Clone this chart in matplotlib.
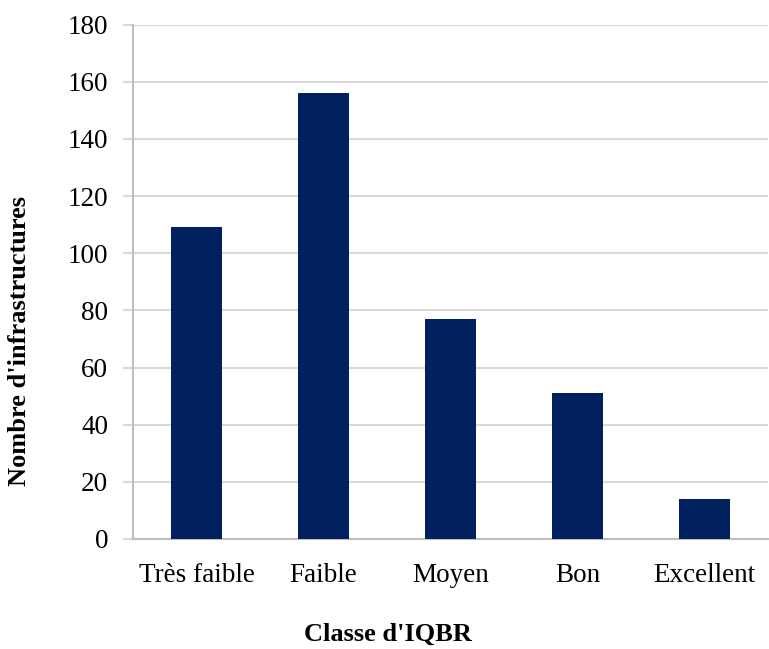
import matplotlib
matplotlib.use("Agg")
import matplotlib.pyplot as plt

categories = ["Très faible", "Faible", "Moyen", "Bon", "Excellent"]
values = [109, 156, 77, 51, 14]
yticks = [0, 20, 40, 60, 80, 100, 120, 140, 160, 180]

W, H = 769, 649
fig = plt.figure(figsize=(W/100, H/100), dpi=100)
plt.rcParams['font.family'] = ['Liberation Serif', 'DejaVu Serif']

ax = fig.add_axes([133/W, 1-539/H, (768-133)/W, (539-24.5)/H])
x = list(range(len(categories)))
ax.bar(x, values, width=0.4, color="#002060", zorder=3)
ax.set_xlim(-0.5, len(categories)-0.5)
ax.set_ylim(0, 180)
ax.set_yticks(yticks)
ax.set_yticklabels([str(v) for v in yticks], fontsize=19.5)
ax.set_xticks(x)
ax.set_xticklabels(categories, fontsize=19.5)
ax.yaxis.grid(True, color="#d9d9d9", linewidth=1.5, zorder=0)
ax.set_axisbelow(True)
for s in ["top", "right"]:
    ax.spines[s].set_visible(False)
ax.spines["left"].set_color("#bfbfbf")
ax.spines["left"].set_linewidth(1.5)
ax.spines["bottom"].set_color("#bfbfbf")
ax.spines["bottom"].set_linewidth(1.5)
ax.tick_params(axis="y", length=7, width=1.5, color="#d9d9d9", pad=11)
ax.tick_params(axis="x", length=0, pad=17)

fig.text(388/W, 1-634/H, "Classe d'IQBR", fontsize=19, fontweight="bold",
         ha="center", va="center")
fig.text(20/W, 1-341/H, "Nombre d'infrastructures", fontsize=19, fontweight="bold",
         ha="center", va="center", rotation=90)

fig.savefig("out.png", dpi=100)
